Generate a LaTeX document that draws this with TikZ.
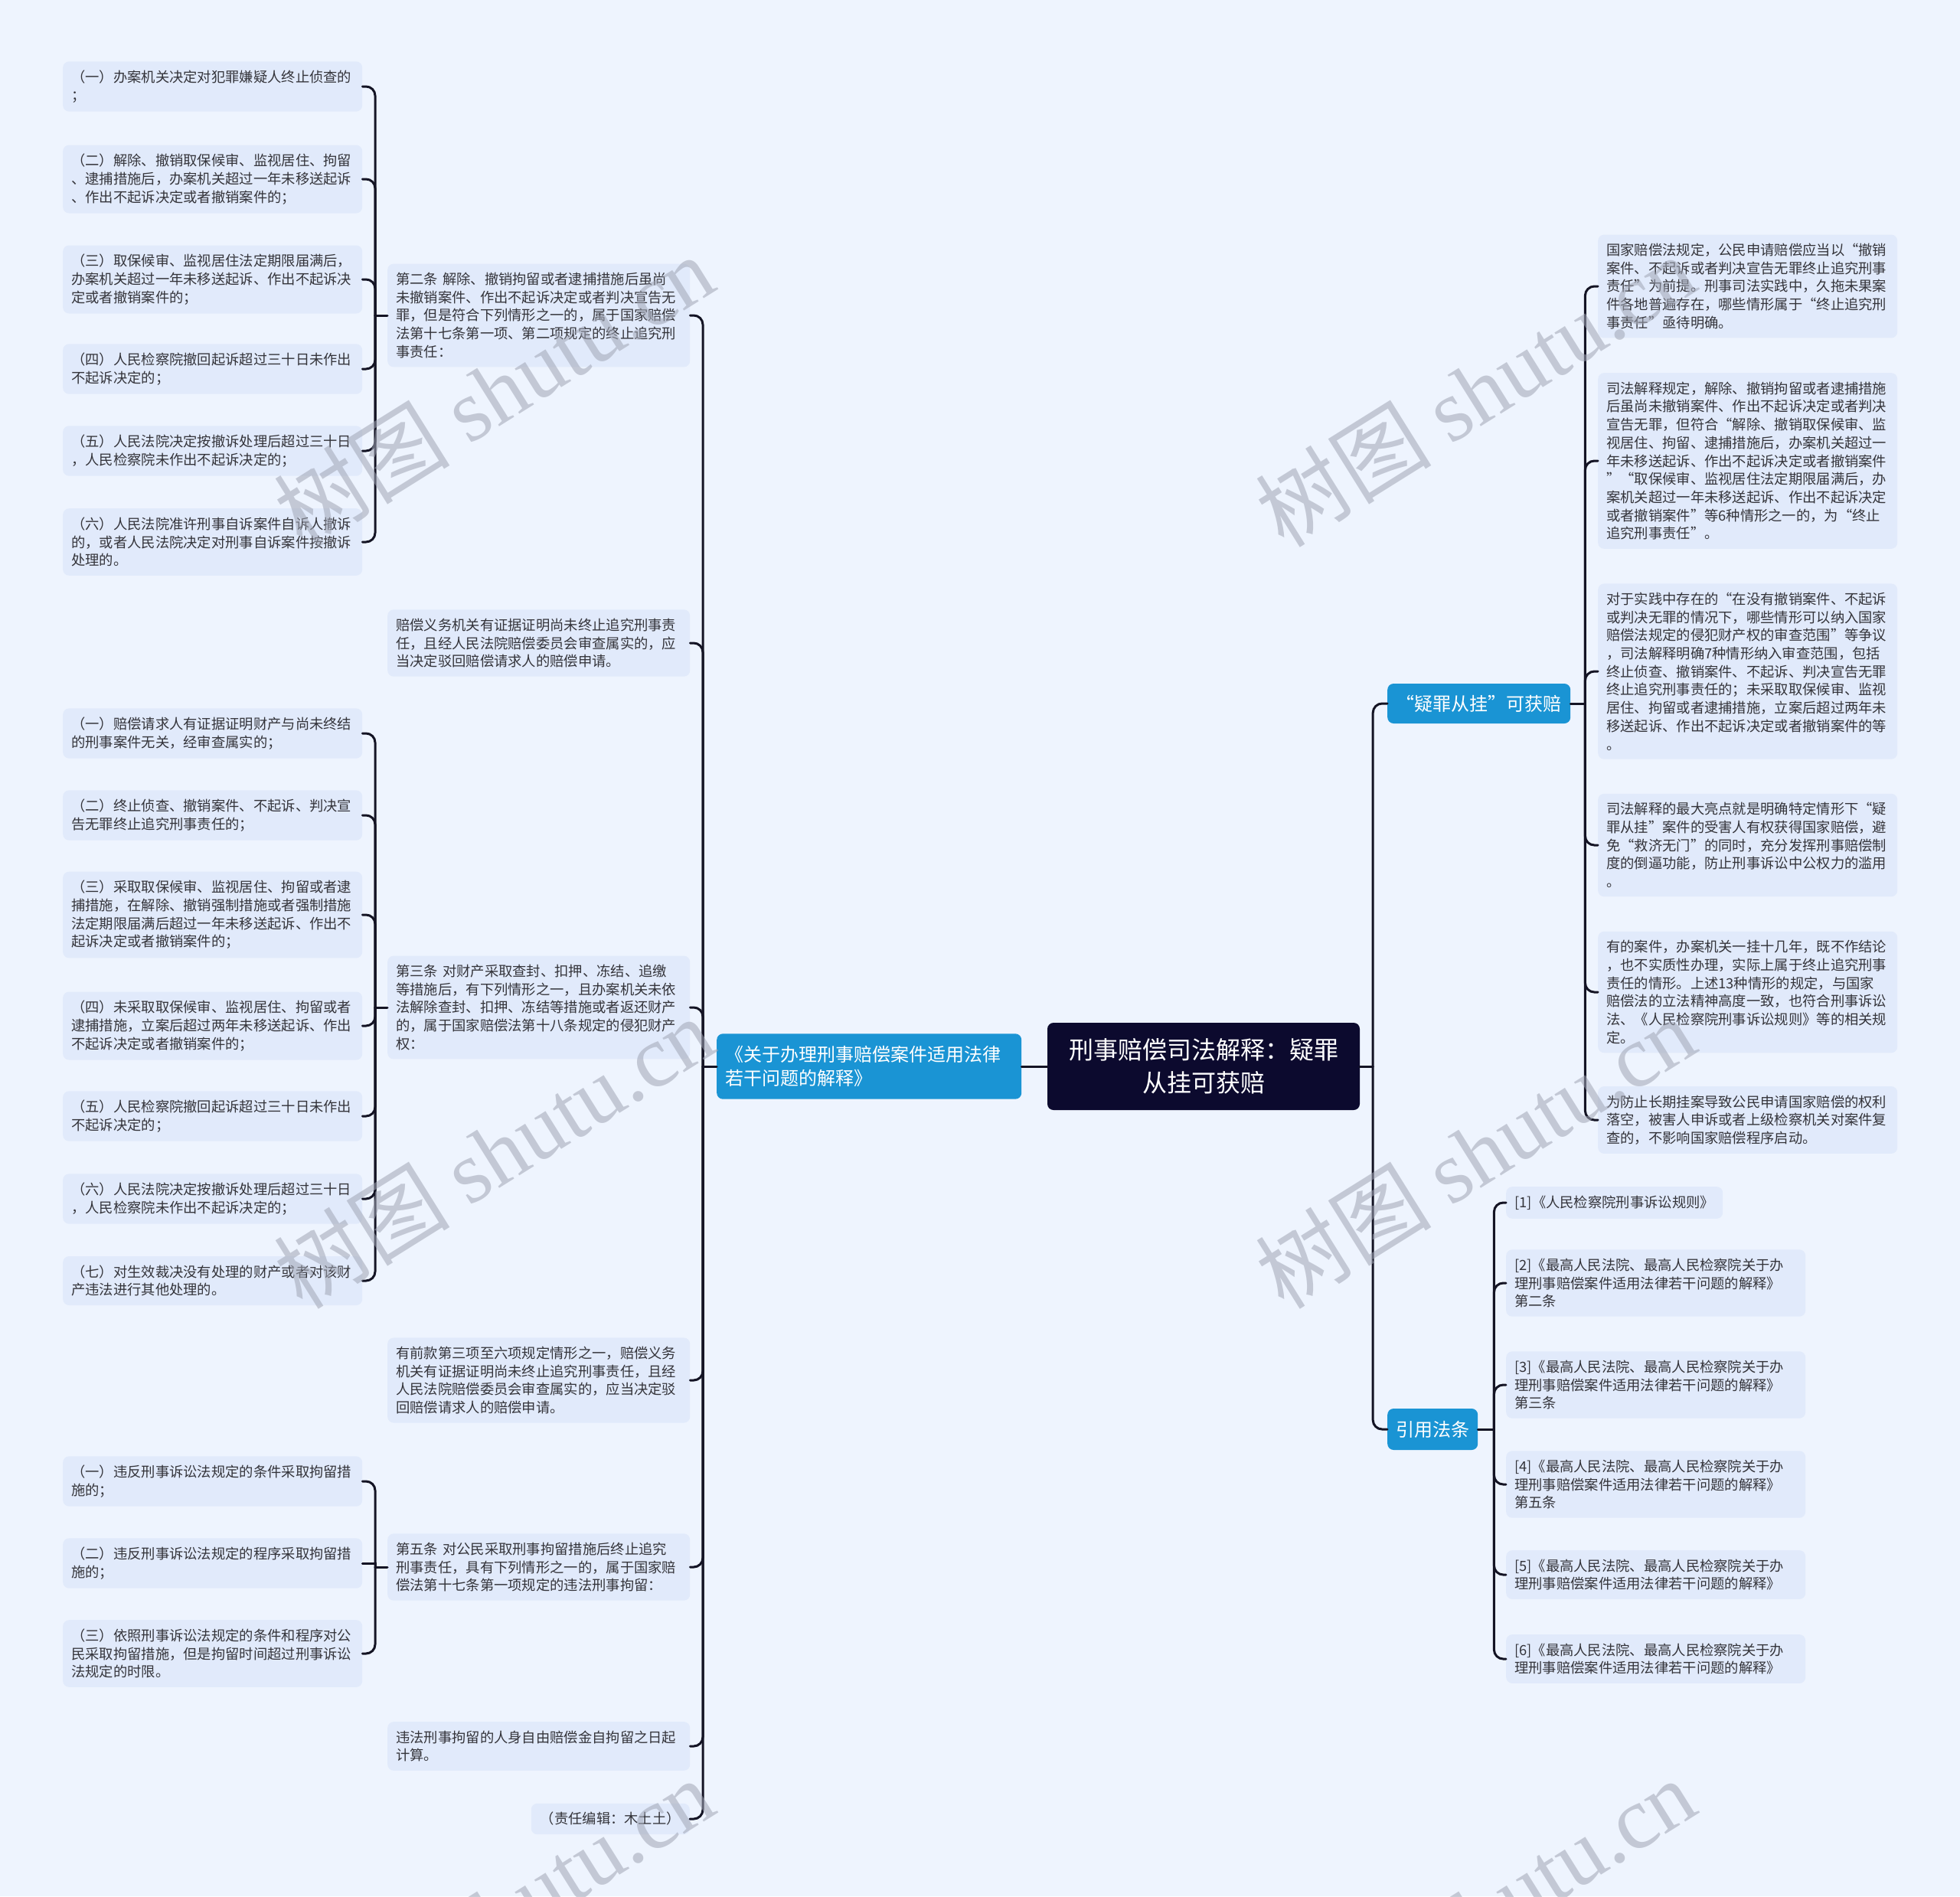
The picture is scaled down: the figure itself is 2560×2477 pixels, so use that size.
\documentclass[tikz,border=0pt]{standalone}
\usepackage{fontspec}
\setmainfont{Noto Sans CJK SC}
\newfontfamily\wmlatin{Liberation Serif}
\usetikzlibrary{calc}
\definecolor{bgcol}{RGB}{238,244,254}
\definecolor{leaffill}{RGB}{225,234,251}
\definecolor{branchblue}{RGB}{26,148,212}
\definecolor{rootfill}{RGB}{12,10,46}
\definecolor{linecol}{RGB}{20,20,36}
\definecolor{textcol}{RGB}{52,52,58}
\definecolor{wmcol}{RGB}{160,165,180}
\tikzset{
  leaf/.style={fill=leaffill, rounded corners=8pt, inner xsep=11pt, inner ysep=11.5pt,
    text width=369pt, align=left, font=\fontsize{18.3}{23.7}\selectfont, text=textcol, anchor=west},
  midleaf/.style={leaf, text width=373pt},
  shortleaf/.style={fill=leaffill, rounded corners=8pt, inner xsep=11pt, inner ysep=11.5pt,
    align=left, font=\fontsize{18.3}{23.7}\selectfont, text=textcol},
  branch/.style={fill=branchblue, rounded corners=8pt, inner xsep=11pt, inner ysep=10pt,
    font=\fontsize{24}{31}\selectfont, text=white, anchor=west},
  rootbox/.style={fill=rootfill, rounded corners=8pt, minimum width=408pt, minimum height=114pt,
    align=center, font=\fontsize{32}{42.5}\selectfont, text=white},
  conn/.style={draw=linecol, line width=3pt, line cap=round},
  elbow/.style={conn, rounded corners=12pt},
  wmark/.style={rotate=32, text=wmcol, opacity=0.55, font=\fontsize{115}{120}\selectfont}
}
\begin{document}
\begin{tikzpicture}[x=1pt,y=-1pt]
\useasboundingbox (0,0) rectangle (2560,2477);
\fill[bgcol] (0,0) rectangle (2560,2477);

% root and main branches
\node[rootbox] (root) at (1572,1393) {刑事赔偿司法解释：疑罪\\从挂可获赔};
\node[branch, text width=376pt, align=left, inner ysep=16pt] (B) at (936,1393) {《关于办理刑事赔偿案件适用法律\\若干问题的解释》};
\node[branch, minimum width=239pt, minimum height=52pt, align=center] (R1) at (1812,919) {“疑罪从挂”可获赔};
\node[branch, minimum width=118pt, minimum height=54pt, align=center] (R2) at (1812,1867) {引用法条};

% left: second-level
\node[midleaf] (P1) at (506,412) {第二条 解除、撤销拘留或者逮捕措施后虽尚\\未撤销案件、作出不起诉决定或者判决宣告无\\罪，但是符合下列情形之一的，属于国家赔偿\\法第十七条第一项、第二项规定的终止追究刑\\事责任：};
\node[midleaf] (P2) at (506,840) {赔偿义务机关有证据证明尚未终止追究刑事责\\任，且经人民法院赔偿委员会审查属实的，应\\当决定驳回赔偿请求人的赔偿申请。};
\node[midleaf] (P3) at (506,1316) {第三条 对财产采取查封、扣押、冻结、追缴\\等措施后，有下列情形之一，且办案机关未依\\法解除查封、扣押、冻结等措施或者返还财产\\的，属于国家赔偿法第十八条规定的侵犯财产\\权：};
\node[midleaf] (P4) at (506,1803) {有前款第三项至六项规定情形之一，赔偿义务\\机关有证据证明尚未终止追究刑事责任，且经\\人民法院赔偿委员会审查属实的，应当决定驳\\回赔偿请求人的赔偿申请。};
\node[midleaf] (P5) at (506,2047) {第五条 对公民采取刑事拘留措施后终止追究\\刑事责任，具有下列情形之一的，属于国家赔\\偿法第十七条第一项规定的违法刑事拘留：};
\node[midleaf] (P6) at (506,2281) {违法刑事拘留的人身自由赔偿金自拘留之日起\\计算。};
\node[shortleaf, anchor=east, minimum width=207pt] (P7) at (901,2376) {（责任编辑：木土土）};

% left: third-level, group 1
\node[leaf] (L1) at (82,113) {（一）办案机关决定对犯罪嫌疑人终止侦查的\\；};
\node[leaf] (L2) at (82,234) {（二）解除、撤销取保候审、监视居住、拘留\\、逮捕措施后，办案机关超过一年未移送起诉\\、作出不起诉决定或者撤销案件的；};
\node[leaf] (L3) at (82,365) {（三）取保候审、监视居住法定期限届满后，\\办案机关超过一年未移送起诉、作出不起诉决\\定或者撤销案件的；};
\node[leaf] (L4) at (82,482) {（四）人民检察院撤回起诉超过三十日未作出\\不起诉决定的；};
\node[leaf] (L5) at (82,589) {（五）人民法院决定按撤诉处理后超过三十日\\，人民检察院未作出不起诉决定的；};
\node[leaf] (L6) at (82,708) {（六）人民法院准许刑事自诉案件自诉人撤诉\\的，或者人民法院决定对刑事自诉案件按撤诉\\处理的。};

% group 2
\node[leaf] (M1) at (82,958) {（一）赔偿请求人有证据证明财产与尚未终结\\的刑事案件无关，经审查属实的；};
\node[leaf] (M2) at (82,1065) {（二）终止侦查、撤销案件、不起诉、判决宣\\告无罪终止追究刑事责任的；};
\node[leaf] (M3) at (82,1195) {（三）采取取保候审、监视居住、拘留或者逮\\捕措施，在解除、撤销强制措施或者强制措施\\法定期限届满后超过一年未移送起诉、作出不\\起诉决定或者撤销案件的；};
\node[leaf] (M4) at (82,1340) {（四）未采取取保候审、监视居住、拘留或者\\逮捕措施，立案后超过两年未移送起诉、作出\\不起诉决定或者撤销案件的；};
\node[leaf] (M5) at (82,1458) {（五）人民检察院撤回起诉超过三十日未作出\\不起诉决定的；};
\node[leaf] (M6) at (82,1566) {（六）人民法院决定按撤诉处理后超过三十日\\，人民检察院未作出不起诉决定的；};
\node[leaf] (M7) at (82,1673) {（七）对生效裁决没有处理的财产或者对该财\\产违法进行其他处理的。};

% group 3
\node[leaf] (N1) at (82,1935) {（一）违反刑事诉讼法规定的条件采取拘留措\\施的；};
\node[leaf] (N2) at (82,2042) {（二）违反刑事诉讼法规定的程序采取拘留措\\施的；};
\node[leaf] (N3) at (82,2160) {（三）依照刑事诉讼法规定的条件和程序对公\\民采取拘留措施，但是拘留时间超过刑事诉讼\\法规定的时限。};

% right: children of R1
\node[leaf] (C1) at (2087,374) {国家赔偿法规定，公民申请赔偿应当以“撤销\\案件、不起诉或者判决宣告无罪终止追究刑事\\责任”为前提。刑事司法实践中，久拖未果案\\件各地普遍存在，哪些情形属于“终止追究刑\\事责任”亟待明确。};
\node[leaf] (C2) at (2087,602) {司法解释规定，解除、撤销拘留或者逮捕措施\\后虽尚未撤销案件、作出不起诉决定或者判决\\宣告无罪，但符合“解除、撤销取保候审、监\\视居住、拘留、逮捕措施后，办案机关超过一\\年未移送起诉、作出不起诉决定或者撤销案件\\”“取保候审、监视居住法定期限届满后，办\\案机关超过一年未移送起诉、作出不起诉决定\\或者撤销案件”等6种情形之一的，为“终止\\追究刑事责任”。};
\node[leaf] (C3) at (2087,877) {对于实践中存在的“在没有撤销案件、不起诉\\或判决无罪的情况下，哪些情形可以纳入国家\\赔偿法规定的侵犯财产权的审查范围”等争议\\，司法解释明确7种情形纳入审查范围，包括\\终止侦查、撤销案件、不起诉、判决宣告无罪\\终止追究刑事责任的；未采取取保候审、监视\\居住、拘留或者逮捕措施，立案后超过两年未\\移送起诉、作出不起诉决定或者撤销案件的等\\。};
\node[leaf] (C4) at (2087,1104) {司法解释的最大亮点就是明确特定情形下“疑\\罪从挂”案件的受害人有权获得国家赔偿，避\\免“救济无门”的同时，充分发挥刑事赔偿制\\度的倒逼功能，防止刑事诉讼中公权力的滥用\\。};
\node[leaf] (C5) at (2087,1296) {有的案件，办案机关一挂十几年，既不作结论\\，也不实质性办理，实际上属于终止追究刑事\\责任的情形。上述13种情形的规定，与国家\\赔偿法的立法精神高度一致，也符合刑事诉讼\\法、《人民检察院刑事诉讼规则》等的相关规\\定。};
\node[leaf] (C6) at (2087,1463) {为防止长期挂案导致公民申请国家赔偿的权利\\落空，被害人申诉或者上级检察机关对案件复\\查的，不影响国家赔偿程序启动。};

% right: children of R2
\node[shortleaf, anchor=west, minimum width=283pt] (D1) at (1967,1571) {[1]《人民检察院刑事诉讼规则》};
\node[leaf] (D2) at (1967,1676) {[2]《最高人民法院、最高人民检察院关于办\\理刑事赔偿案件适用法律若干问题的解释》\\第二条};
\node[leaf] (D3) at (1967,1809) {[3]《最高人民法院、最高人民检察院关于办\\理刑事赔偿案件适用法律若干问题的解释》\\第三条};
\node[leaf] (D4) at (1967,1939) {[4]《最高人民法院、最高人民检察院关于办\\理刑事赔偿案件适用法律若干问题的解释》\\第五条};
\node[leaf] (D5) at (1967,2057) {[5]《最高人民法院、最高人民检察院关于办\\理刑事赔偿案件适用法律若干问题的解释》};
\node[leaf] (D6) at (1967,2167) {[6]《最高人民法院、最高人民检察院关于办\\理刑事赔偿案件适用法律若干问题的解释》};

% connectors
\draw[conn] (root.west) -- (B.east);
\coordinate (j0) at ($(B.west)+(-18,0)$);
\draw[conn] (B.west) -- (j0);
\foreach \c in {P1,P2,P3,P4,P5,P6,P7} \draw[elbow] (j0) |- (\c.east);

\coordinate (j1) at ($(P1.west)+(-16,0)$);
\draw[conn] (P1.west) -- (j1);
\foreach \c in {L1,L2,L3,L4,L5,L6} \draw[elbow] (j1) |- (\c.east);

\coordinate (j3) at ($(P3.west)+(-16,0)$);
\draw[conn] (P3.west) -- (j3);
\foreach \c in {M1,M2,M3,M4,M5,M6,M7} \draw[elbow] (j3) |- (\c.east);

\coordinate (j5) at ($(P5.west)+(-16,0)$);
\draw[conn] (P5.west) -- (j5);
\foreach \c in {N1,N3} \draw[elbow] (j5) |- (\c.east);
\draw[conn] (j5) |- (N2.east);

\coordinate (jr) at ($(root.east)+(17,0)$);
\draw[conn] (root.east) -- (jr);
\foreach \c in {R1,R2} \draw[elbow] (jr) |- (\c.west);

\coordinate (jc) at ($(R1.east)+(19,0)$);
\draw[conn] (R1.east) -- (jc);
\foreach \c in {C1,C2,C3,C4,C5,C6} \draw[elbow] (jc) |- (\c.west);

\coordinate (jd) at ($(R2.east)+(21,0)$);
\draw[conn] (R2.east) -- (jd);
\foreach \c in {D1,D2,D3,D4,D5,D6} \draw[elbow] (jd) |- (\c.west);

% watermarks
\foreach \wx/\wy [count=\i] in {645/510,1927/510,645/1505,1927/1505,645/2500,1927/2500}
  \node[wmark] (wm\i) at (\wx,\wy) {树图 {\wmlatin shutu.cn}};
\end{tikzpicture}
\end{document}
